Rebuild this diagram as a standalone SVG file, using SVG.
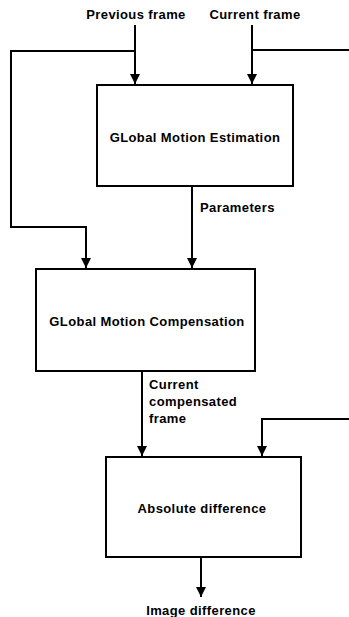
<svg xmlns="http://www.w3.org/2000/svg" width="349" height="617" viewBox="0 0 349 617">
<defs>
<style>
text{font-family:"Liberation Sans",Arial,sans-serif;font-weight:bold;font-size:13px;letter-spacing:0.4px;fill:#000}
.box{fill:#fff;stroke:#000;stroke-width:2}
.ln{fill:none;stroke:#000;stroke-width:2}
</style>
<marker id="ah" markerWidth="10" markerHeight="10" refX="10" refY="5" orient="auto" markerUnits="userSpaceOnUse"><path d="M0,0 L10,5 L0,10 Z" fill="#000"/></marker>
</defs>
<rect width="349" height="617" fill="#fff"/>
<g id="connectors">
<line class="ln" x1="135" y1="25" x2="135" y2="84" marker-end="url(#ah)"/>
<line class="ln" x1="252" y1="25" x2="252" y2="84" marker-end="url(#ah)"/>
<polyline class="ln" points="135,51 11,51 11,227 86,227 86,268" marker-end="url(#ah)"/>
<polyline class="ln" points="349,50 252,50"/>
<line class="ln" x1="192" y1="186" x2="192" y2="268" marker-end="url(#ah)"/>
<line class="ln" x1="142" y1="371" x2="142" y2="456" marker-end="url(#ah)"/>
<polyline class="ln" points="349,419 262,419 262,456" marker-end="url(#ah)"/>
<line class="ln" x1="201" y1="557" x2="201" y2="597" marker-end="url(#ah)"/>
<text x="200" y="212">Parameters</text>
<text x="149" y="389">Current</text>
<text x="149" y="406">compensated</text>
<text x="149" y="423">frame</text>
</g>
<g id="input-previous"><text x="136" y="19" text-anchor="middle">Previous frame</text></g>
<g id="input-current"><text x="255" y="19" text-anchor="middle">Current frame</text></g>
<g id="gme"><rect class="box" x="97" y="85" width="196" height="101"/><text x="195" y="142" text-anchor="middle">GLobal Motion Estimation</text></g>
<g id="gmc"><rect class="box" x="36" y="269" width="219" height="102"/><text x="147" y="326" text-anchor="middle">GLobal Motion Compensation</text></g>
<g id="absdiff"><rect class="box" x="106" y="457" width="195" height="100"/><text x="202" y="513" text-anchor="middle">Absolute difference</text></g>
<g id="output"><text x="201" y="615" text-anchor="middle">Image difference</text></g>
</svg>
